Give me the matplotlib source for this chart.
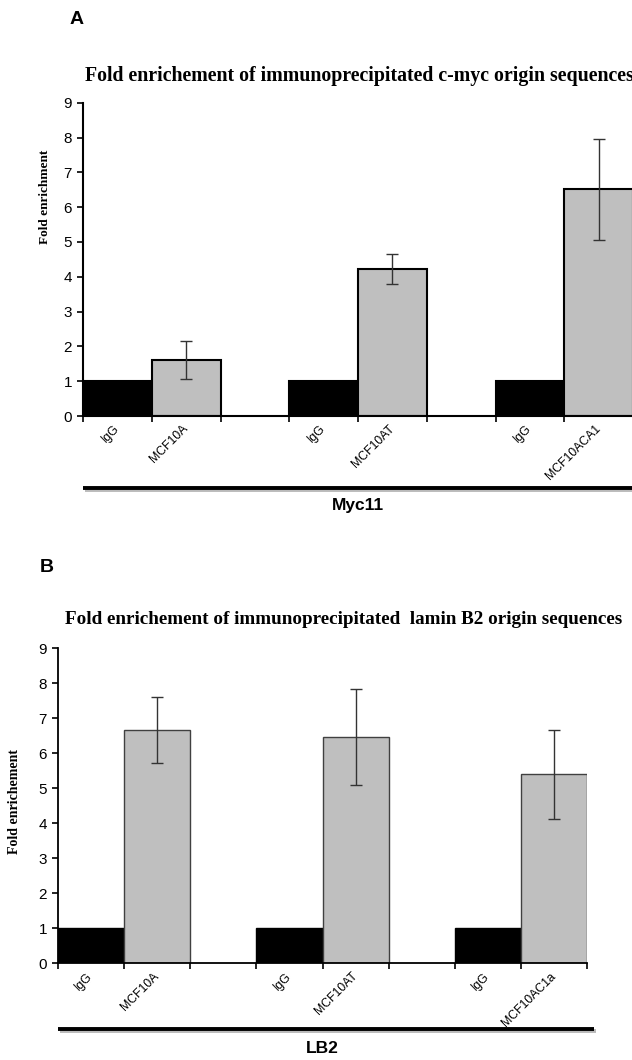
import numpy as np
import matplotlib
matplotlib.use('Agg')
import matplotlib.pyplot as plt
import matplotlib.transforms as mtransforms
import matplotlib.patheffects as pe

plt.rcParams['font.family'] = ['Liberation Sans', 'DejaVu Sans']

# ── data ────────────────────────────────────────────────────────────
labels_a = ['IgG', 'MCF10A', 'IgG', 'MCF10AT', 'IgG', 'MCF10ACA1']
values_a = [1.0, 1.61, 1.0, 4.22, 1.0, 6.51]
errors_a = [0.0, 0.54, 0.0, 0.43, 0.0, 1.46]

labels_b = ['IgG', 'MCF10A', 'IgG', 'MCF10AT', 'IgG', 'MCF10AC1a']
values_b = [1.0, 6.67, 1.0, 6.47, 1.0, 5.40]
errors_b = [0.0, 0.95, 0.0, 1.38, 0.0, 1.28]

is_igg = [True, False, True, False, True, False]
yticks = list(range(0, 10))

title_a = 'Fold enrichement of immunoprecipitated c-myc origin sequences'
title_b = 'Fold enrichement of immunoprecipitated  lamin B2 origin sequences'
ylabel_a = 'Fold enrichment'
ylabel_b = 'Fold enrichement'
group_a = 'Myc11'
group_b = 'LB2'

# slot layout: two bars per group, one empty slot between groups
slots = np.array([0, 1, 3, 4, 6, 7]) + 0.5

W, H = 632, 1060
fig = plt.figure(figsize=(W / 100, H / 100), dpi=100)


def panel(rect, labels, values, errors, edge_col, edge_lw, spine_lw,
          group, line_y, text_y, line_x1):
    ax = fig.add_axes(rect)
    cols = ['black' if g else '#bfbfbf' for g in is_igg]
    edges = ['black' if g else edge_col for g in is_igg]
    ax.bar(slots, values, width=1.0, color=cols, edgecolor=edges,
           linewidth=edge_lw, zorder=2)
    sel = [not g for g in is_igg]
    ax.errorbar(slots[sel], np.array(values)[sel], yerr=np.array(errors)[sel],
                fmt='none', ecolor='#333333', elinewidth=1.0, capsize=4,
                capthick=1.0, zorder=3)

    ax.set_xlim(0, 8)
    ax.set_ylim(0, 9)
    ax.set_yticks(yticks)
    ax.tick_params(axis='y', direction='out', length=4, width=1.2,
                   labelsize=11, pad=4)
    ax.set_xticks(np.arange(0, 9))
    ax.set_xticklabels([])
    ax.tick_params(axis='x', which='major', direction='out', length=4,
                   width=1.2)
    ax.set_xticks(slots, minor=True)
    ax.set_xticklabels(labels, minor=True, rotation=45, ha='right',
                       va='center', rotation_mode='anchor', fontsize=8.8)
    ax.tick_params(axis='x', which='minor', length=0, pad=8)

    for s in ('top', 'right'):
        ax.spines[s].set_visible(False)
    for s in ('left', 'bottom'):
        ax.spines[s].set_linewidth(spine_lw)

    trans = mtransforms.blended_transform_factory(ax.transData, ax.transAxes)
    ax.plot([0, line_x1], [line_y, line_y], color='black', lw=2.8,
            transform=trans, clip_on=False, solid_capstyle='butt',
            path_effects=[pe.SimpleLineShadow(offset=(1.5, -1.5),
                                              shadow_color='0.55', alpha=0.6),
                          pe.Normal()])
    ax.text(4, text_y, group, transform=trans, ha='center', va='center',
            fontsize=12.5, fontweight='bold')
    return ax


ax_a = panel([83 / W, 1 - 416 / H, 550 / W, 313.3 / H],
             labels_a, values_a, errors_a, 'black', 1.5, 1.5,
             group_a, -0.23, -0.285, 8)
ax_b = panel([58 / W, 1 - 963.3 / H, 529 / W, 315 / H],
             labels_b, values_b, errors_b, '#404040', 1.0, 1.3,
             group_b, -0.209, -0.27, 8.1)

serif = ['Liberation Serif', 'DejaVu Serif']
fig.text(70 / W, 1 - 20 / H, 'A', fontsize=14, fontweight='bold',
         va='center', ha='left')
fig.text(40 / W, 1 - 567 / H, 'B', fontsize=14, fontweight='bold',
         va='center', ha='left')
fig.text(85 / W, 1 - 76 / H, title_a, family=serif, fontsize=14.3,
         fontweight='bold', va='center', ha='left')
fig.text(65 / W, 1 - 619 / H, title_b, family=serif, fontsize=13.8,
         fontweight='bold', va='center', ha='left')
fig.text(45 / W, 1 - 197 / H, ylabel_a, family=serif, fontsize=9.5,
         fontweight='bold', rotation=90, va='center', ha='center')
fig.text(15 / W, 1 - 802 / H, ylabel_b, family=serif, fontsize=10,
         fontweight='bold', rotation=90, va='center', ha='center')

fig.savefig('out.png', dpi=100)
